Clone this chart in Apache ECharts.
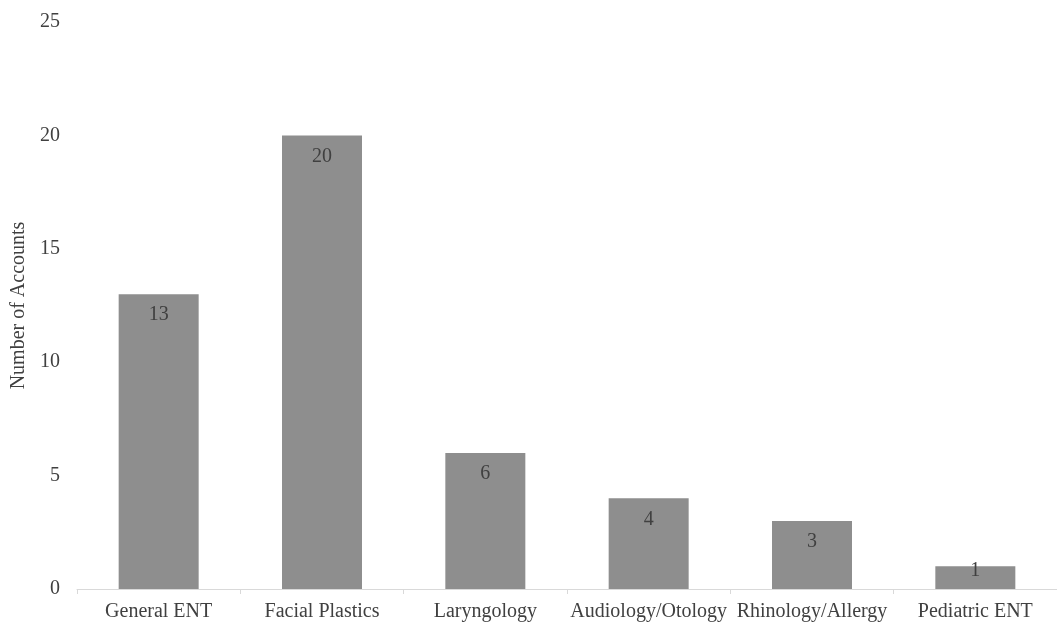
<!DOCTYPE html>
<html>
<head>
<meta charset="utf-8">
<script src="https://cdn.jsdelivr.net/npm/echarts@6/dist/echarts.min.js"></script>
<style>
  html, body { margin: 0; padding: 0; background: #fff; }
  #chart { width: 1057px; height: 622px; }
</style>
</head>
<body>
<div id="chart"></div>
<script>
// Social media accounts by subspecialty
const categories = ['General ENT', 'Facial Plastics', 'Laryngology', 'Audiology/Otology', 'Rhinology/Allergy', 'Pediatric ENT'];
const accounts = [13, 20, 6, 4, 3, 1];
const yTicks = [0, 5, 10, 15, 20, 25];

const fontFamily = '"Liberation Serif", "Times New Roman", serif';

// Very short bars cannot hold the label fully inside, so it rides near the bar's top edge
const barData = accounts.map(v => (v < 2
  ? { value: v, label: { distance: -6 } }
  : v));

const chart = echarts.init(document.getElementById('chart'));
chart.setOption({
  animation: false,
  textStyle: { fontFamily: fontFamily },
  grid: { left: 77, right: 0, top: 22, bottom: 33, containLabel: false },
  xAxis: {
    type: 'category',
    data: categories,
    axisLine: { lineStyle: { color: '#d9d9d9', width: 1 } },
    axisTick: { show: true, alignWithLabel: false, length: 5, lineStyle: { color: '#d9d9d9' } },
    axisLabel: { color: '#404040', fontSize: 20, fontFamily: fontFamily, margin: 13, interval: 0 }
  },
  yAxis: {
    type: 'value',
    min: yTicks[0],
    max: yTicks[yTicks.length - 1],
    interval: 5,
    name: 'Number of Accounts',
    nameLocation: 'middle',
    nameGap: 45,
    nameRotate: 90,
    nameTextStyle: { color: '#404040', fontSize: 20, fontFamily: fontFamily },
    axisLine: { show: false },
    axisTick: { show: false },
    splitLine: { show: false },
    axisLabel: { color: '#404040', fontSize: 20, fontFamily: fontFamily, margin: 17, padding: [3, 0, 0, 0] }
  },
  series: [{
    type: 'bar',
    data: barData,
    barWidth: 80,
    itemStyle: { color: '#8e8e8e' },
    label: {
      show: true,
      position: 'insideTop',
      distance: 11,
      color: '#404040',
      fontSize: 20,
      fontFamily: fontFamily
    }
  }]
});
</script>
</body>
</html>
